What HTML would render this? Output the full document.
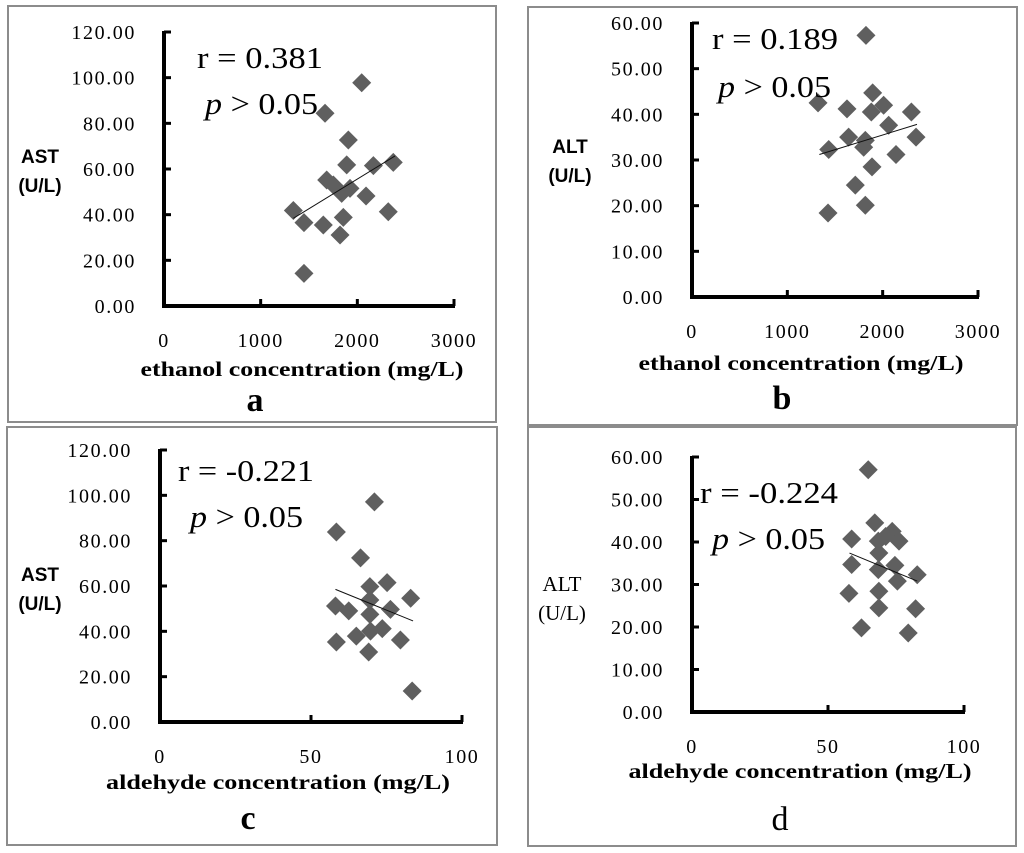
<!DOCTYPE html>
<html><head><meta charset="utf-8"><style>
body{margin:0;background:#fff;}
svg{display:block;}
text{font-family:"Liberation Serif",serif;fill:#000;}
.sans{font-family:"Liberation Sans",sans-serif;font-weight:bold;}
</style></head><body>
<svg id="fig" width="1024" height="853" viewBox="0 0 1024 853"></svg>
<script>
// Panel a: ethanol vs AST
const aX=[2045,1666,1907,1890,2166,2372,1683,1752,1924,1838,2090,1338,2320,1855,1448,1648,1821,1448];
const aY=[97.8,84.4,72.7,61.8,61.5,62.9,55.2,53,51.5,49.3,48.2,41.8,41.3,38.8,36.5,35.5,31.1,14.3];
const aTrend=[[1338,38.4],[2390,65.7]];
// Panel b: ethanol vs ALT
const bX=[1825,1322,1626,1895,1881,2010,2301,2063,1643,1818,2350,1434,1801,2140,1888,1713,1818,1427];
const bY=[57.3,42.5,41.2,44.7,40.5,42,40.5,37.6,35,34.3,35,32.3,32.8,31.2,28.5,24.5,20.1,18.4];
const bTrend=[[1336,31.2],[2360,37.8]];
// Panel c: aldehyde vs AST
const cX=[71,58.4,66.4,75.2,69.5,83,69.5,58.1,62.5,76.3,69.5,73.6,69.7,65,79.6,58.4,69.1,83.5];
const cY=[97.1,83.8,72.4,61.5,59.7,54.6,53.8,51.2,49,49.7,47.5,41.2,40.1,37.9,36.2,35.3,30.9,13.7];
const cTrend=[[58.1,58.5],[83.8,44.6]];
// Panel d: aldehyde vs ALT
const dX=[64.8,67.2,58.7,73.6,71.2,76.1,68.5,68.7,58.7,74.6,68.5,82.8,75.5,57.7,68.7,68.7,82.2,62.3,79.5];
const dY=[57,44.5,40.7,42.5,41.3,40.2,40.2,37.4,34.7,34.5,33.5,32.3,30.8,27.9,28.4,24.5,24.3,19.8,18.6];
const dTrend=[[57.9,37.4],[82.8,30.8]];
const ethTicks=["0","1000","2000","3000"];
const aldTicks=["0","50","100"];
const astTicks=["0.00","20.00","40.00","60.00","80.00","100.00","120.00"];
const altTicks=["0.00","10.00","20.00","30.00","40.00","50.00","60.00"];

const NS="http://www.w3.org/2000/svg";
const svg=document.getElementById('fig');
function mk(tag,attrs,parent,txt){const e=document.createElementNS(NS,tag);for(const k in attrs)e.setAttribute(k,attrs[k]);if(txt!==undefined)e.textContent=txt;(parent||svg).appendChild(e);return e;}

const panels=[
 {id:'a',frame:[8,6,488,416],ox:164,oy:306,xe:454,yt:32,xmax:3000,ymax:120,xs:aX,ys:aY,tr:aTrend,xt:ethTicks,yt2:astTicks,
  xtitle:'ethanol concentration (mg/L)',xtx:302,xty:369,xtw:323,lab:'a',lx:255,ly:400,lbold:true,
  yl1:'AST',yl2:'(U/L)',ylx:40,yly:156,ylsans:true,r:'r = 0.381',rx:197,ry:57,rw:126,px:205,py:103},
 {id:'b',frame:[528,7,489,418],ox:692,oy:297,xe:978,yt:23,xmax:3000,ymax:60,xs:bX,ys:bY,tr:bTrend,xt:ethTicks,yt2:altTicks,
  xtitle:'ethanol concentration (mg/L)',xtx:801,xty:363,xtw:325,lab:'b',lx:782,ly:398,lbold:true,
  yl1:'ALT',yl2:'(U/L)',ylx:570,yly:146,ylsans:true,r:'r = 0.189',rx:712,ry:38,rw:126,px:718,py:86},
 {id:'c',frame:[7,427,490,418],ox:160,oy:722,xe:462,yt:450,xmax:100,ymax:120,xs:cX,ys:cY,tr:cTrend,xt:aldTicks,yt2:astTicks,
  xtitle:'aldehyde concentration (mg/L)',xtx:278,xty:782,xtw:344,lab:'c',lx:248,ly:818,lbold:true,
  yl1:'AST',yl2:'(U/L)',ylx:40,yly:574,ylsans:true,r:'r = -0.221',rx:178,ry:470,rw:136,px:190,py:516},
 {id:'d',frame:[528,427,488,419],ox:692,oy:712,xe:964,yt:457,xmax:100,ymax:60,xs:dX,ys:dY,tr:dTrend,xt:aldTicks,yt2:altTicks,
  xtitle:'aldehyde concentration (mg/L)',xtx:800,xty:771,xtw:343,lab:'d',lx:780,ly:819,lbold:false,
  yl1:'ALT',yl2:'(U/L)',ylx:562,yly:584,ylsans:false,r:'r = -0.224',rx:700,ry:492,rw:138,px:712,py:538}
];

panels.forEach(p=>{
 const g=mk('g',{});
 
 
 const fr=mk('rect',{x:p.frame[0],y:p.frame[1],width:p.frame[2],height:p.frame[3],fill:'none',stroke:'#8c8c8c','stroke-width':2},g);
 
 
 const sx=v=>p.ox+(v/p.xmax)*(p.xe-p.ox);
 const sy=v=>p.oy-(v/p.ymax)*(p.oy-p.yt);
 const ax=mk('path',{d:`M${p.ox},${p.yt-1} L${p.ox},${p.oy} L${p.xe+1},${p.oy}`,fill:'none',stroke:'#000','stroke-width':4},g);
 
 
 p.yt2.forEach((t,i)=>{
  const v=i*p.ymax/(p.yt2.length-1);const y=sy(v);
  mk('line',{x1:p.ox,x2:p.ox+7,y1:y,y2:y,stroke:'#000','stroke-width':3},g);
  const tl=mk('text',{x:p.ox-28,y:y+7,'text-anchor':'end','font-size':20,'letter-spacing':1.6,fill:'#222'},g,t);
  
  
 });
 p.xt.forEach((t,i)=>{
  const v=i*p.xmax/(p.xt.length-1);const x=sx(v);
  mk('line',{x1:x,x2:x,y1:p.oy,y2:p.oy-7,stroke:'#000','stroke-width':3},g);
  const tl=mk('text',{x:x,y:p.oy+41,'text-anchor':'middle','font-size':20,'letter-spacing':1.6,fill:'#222'},g,t);
  
  
 });
 p.xs.forEach((xv,i)=>{
  const cx=sx(xv),cy=sy(p.ys[i]),h=9.5;
  const d=mk('polygon',{points:`${cx},${cy-h} ${cx+h},${cy} ${cx},${cy+h} ${cx-h},${cy}`,fill:'#5f5f5f'},g);
  
  
 });
 const tl=mk('line',{x1:sx(p.tr[0][0]),y1:sy(p.tr[0][1]),x2:sx(p.tr[1][0]),y2:sy(p.tr[1][1]),stroke:'#111','stroke-width':1},g);
 
 
 const xt=mk('text',{x:p.xtx-p.xtw/2,y:p.xty+7,'font-size':21,'font-weight':'bold',textLength:p.xtw,lengthAdjust:'spacingAndGlyphs'},g,p.xtitle);
 
 
 const lb=mk('text',{x:p.lx,y:p.ly+11,'text-anchor':'middle','font-size':34,'font-weight':p.lbold?'bold':'normal'},g,p.lab);
 
 
 const yl=mk('text',{x:p.ylx,y:p.yly+7,'text-anchor':'middle','font-size':p.ylsans?19:21,'class':p.ylsans?'sans':''},g);
 
 
 mk('tspan',{x:p.ylx},yl,p.yl1);
 mk('tspan',{x:p.ylx,dy:29},yl,p.yl2);
 const rt=mk('text',{x:p.rx,y:p.ry+11,'font-size':31,textLength:p.rw,lengthAdjust:'spacingAndGlyphs'},g,p.r);
 
 
 const pt=mk('text',{x:p.px,y:p.py+11,'font-size':31,textLength:113,lengthAdjust:'spacingAndGlyphs'},g);
 
 
 mk('tspan',{'font-style':'italic'},pt,'p');
 mk('tspan',{},pt,' > 0.05');
});
</script>
</body></html>
